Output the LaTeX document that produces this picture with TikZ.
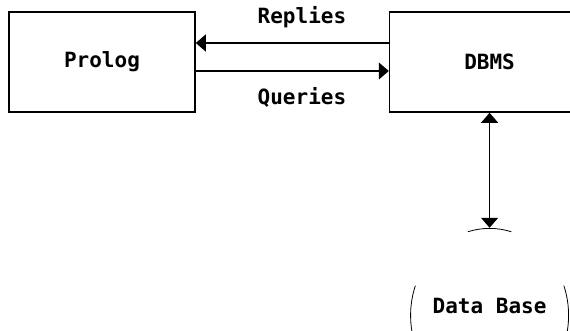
\documentclass[tikz,border=0pt]{standalone}
\usepackage{fontspec}
\setmonofont{DejaVu Sans Mono}
\usetikzlibrary{arrows.meta,positioning,shapes.geometric}

\begin{document}
\begin{tikzpicture}[>={Triangle[width=8.5pt,length=5pt]},semithick,
                    node distance=96.5pt,
                    block/.style={draw,line width=0.8pt,minimum width=93pt,minimum height=50pt},
                    lbl/.style={inner sep=0pt},
                    font=\ttfamily\bfseries\fontsize{10.5}{12}\selectfont]

\useasboundingbox (0,0) rectangle (285pt,-165.5pt);

\node[block] (prolog) at (51pt,-31pt) {Prolog};
\node[block,minimum width=100pt] (dbms) [right=of prolog] {DBMS};
\node[ellipse,inner sep=0pt,minimum width=79pt,minimum height=87pt] (db) [below=57.5pt of dbms] {};
\node[lbl] (dbtext) at ([yshift=4.5pt]db.center) {Data Base};

\draw[->] ([yshift=9.5pt]dbms.west) -- node[lbl,above=7.5pt,pos=0.45] {Replies} ([yshift=9.5pt]prolog.east);
\draw[->] ([yshift=-4.5pt]prolog.east) -- node[lbl,below=8pt,pos=0.55] {Queries} ([yshift=-4.5pt]dbms.west);
\draw[<->] (dbms) -- (db);

% only pieces of the outline show up
\draw[thin] ([shift={(74:39.5pt and 43.5pt)}]db.center) arc[start angle=74,end angle=106,x radius=39.5pt,y radius=43.5pt];
\draw[thin] ([shift={(160:39.5pt and 43.5pt)}]db.center) arc[start angle=160,end angle=200,x radius=39.5pt,y radius=43.5pt];
\draw[thin] ([shift={(-20:39.5pt and 43.5pt)}]db.center) arc[start angle=-20,end angle=20,x radius=39.5pt,y radius=43.5pt];
\end{tikzpicture}
\end{document}
